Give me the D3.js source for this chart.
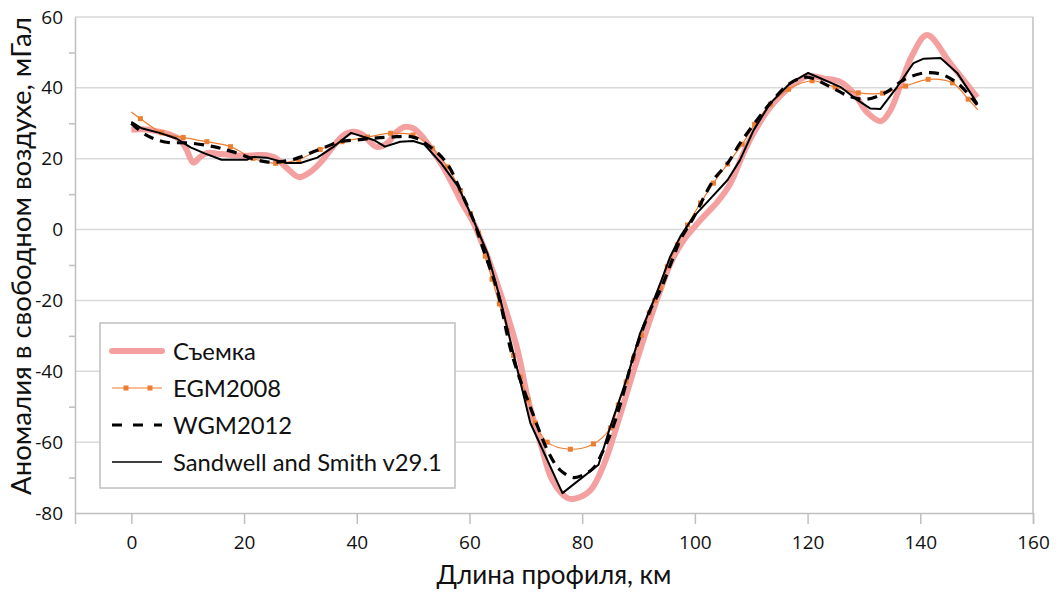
<!DOCTYPE html>
<html>
<head>
<meta charset="utf-8">
<script src="https://cdn.jsdelivr.net/npm/d3@7"></script>
<style>
  body { margin: 0; background: #fff; }
  svg { display: block; font-family: Lato, "Open Sans", sans-serif; }
</style>
</head>
<body>
<svg id="chart" width="1061" height="593"></svg>
<script>
// tick values
const xTicks = [0, 20, 40, 60, 80, 100, 120, 140, 160];
const yTicks = [-80, -60, -40, -20, 0, 20, 40, 60];
const yMinor = [-70, -50, -30, -10, 10, 30, 50];

// [km, mGal]
const survey = [[0,28.2],[2,28.3],[4.4,27.8],[6.5,27],[8.7,25.3],[9.8,22.5],[11,18.9],[12.2,20.5],[13.5,21.6],[16,21.3],[20,20.8],[22,21],[24,21],[25.5,20.3],[27.5,17.5],[29.7,14.8],[31.5,16],[33.5,18.8],[35.5,22.8],[37.7,26.7],[39.5,27.6],[41,26.8],[43.6,23.3],[45.5,24.5],[47,27.5],[48.5,29],[50,28.6],[51.5,26.5],[53,23.3],[55,18.5],[56.6,14],[58.7,7.5],[60.7,1.9],[63.2,-7.7],[65.5,-18],[68.5,-33.8],[70.4,-48],[72.6,-60.3],[74.7,-70.7],[77.4,-75.8],[79.1,-75.8],[81.5,-73.5],[83.8,-66.5],[86.8,-52],[89.1,-40],[91.6,-27.5],[93.9,-17],[95.7,-9.5],[98,-3],[101,2.7],[104,7.8],[106.3,13],[108.6,21.5],[110.4,27.2],[113.4,34.6],[116.9,40.3],[120,43.3],[123,42.6],[125.8,41.7],[128.2,38.5],[130.6,33],[133,30.6],[134.7,33.7],[136.5,40.8],[138.5,49],[141.2,54.9],[145.3,47],[150.1,37.3]];

const egm2008 = [[0,33.2],[1.6,31.3],[5.4,27.3],[9.2,26],[13.4,24.8],[17.6,23.4],[21.6,20.1],[25.6,18.7],[29.7,19.8],[33.5,22.6],[37.4,24.8],[41.9,26.1],[46,27.2],[50,26.7],[53.4,23],[56.1,17.7],[58.4,11],[60.2,4.5],[61.6,-1],[62.8,-7.5],[64,-14],[65.3,-21],[66.7,-28.4],[67.8,-35.5],[69,-41.6],[70.4,-48],[71.7,-54.6],[73.8,-60],[77.9,-62],[82,-60.5],[85,-56],[86.4,-49.5],[87.8,-43],[89.1,-36.3],[90.5,-29.8],[91.9,-23.5],[92.9,-20],[93.9,-16.5],[95.1,-10.5],[96.9,-4.3],[98.7,1.3],[101,7.5],[103.3,13.1],[105.8,18.5],[108.4,24.1],[110.6,29.7],[113.4,35.4],[116.6,39.6],[120.8,42],[124.9,40.2],[129,38.6],[133.3,38.5],[137.4,40.5],[141.4,42.4],[145.7,41.4],[148.5,36.8],[150.2,33.8]];

const wgm2012 = [[0,30],[2.5,26.8],[5.7,24.8],[10.5,24.4],[14.6,23.4],[17.9,22],[24,19.1],[28.2,19.6],[33,22.4],[37,24.8],[40,25.3],[43,25.8],[46,26.1],[50,26.1],[53,23.4],[56,18.7],[58.9,9.2],[60.7,2.7],[62.5,-5.8],[64.9,-17],[67.3,-33.8],[68.7,-41],[71.2,-51.8],[74,-62.8],[76.1,-67.9],[78.5,-70],[80.5,-69],[82,-67.3],[83.8,-62.2],[85.5,-55.6],[87,-48],[89.1,-35.8],[92.1,-22.6],[93.9,-17],[96.2,-7.7],[97.4,-2.9],[99.7,3.2],[103.3,14],[105.8,18.7],[108,24.3],[111,30.9],[113.4,35.7],[116.9,41.3],[120,43],[124,40.3],[127.6,37.5],[130.6,36.8],[134.1,38.9],[137,42.2],[140.6,44.2],[143.6,43.9],[146.6,41.3],[149.4,36.6],[150.1,35.2]];

const sandwell = [[0,30.4],[1.8,28.6],[5,27.3],[8,25.7],[10.5,23.2],[13,21.5],[16,19.7],[20.5,19.7],[21.5,20.5],[24,20.3],[27.5,18.8],[30,18.8],[33,20.3],[36,23.5],[39,27.3],[43,25.3],[45,23.4],[47.7,24.8],[50,25],[52,24],[55,18.7],[58,12.1],[60.7,2.7],[63.2,-6.7],[65.5,-19.9],[67.8,-34.9],[70.8,-54.6],[73.8,-65],[76.5,-74.4],[82.9,-66.4],[85,-55.6],[88,-41.6],[90.3,-29.2],[92.7,-19.9],[94,-14.6],[95.6,-7.7],[97.4,-2],[99.7,3.5],[102.8,8.8],[105.8,14],[108,19.6],[110.4,28],[113.4,35.7],[116.9,41.3],[120.1,44.2],[125.8,40.3],[128.8,36.6],[131.1,34.2],[132.9,34],[135.9,40.3],[138.8,47],[140.5,48.2],[143.6,48.4],[146.6,44.1],[150.1,35.7]];

const svg = d3.select("#chart");
const plot = { left: 75, right: 1033, top: 17, bottom: 513 };

const x = d3.scaleLinear().domain([-10, 160]).range([plot.left, plot.right]);
const y = d3.scaleLinear().domain([-80, 60]).range([plot.bottom, plot.top]);

const gridColor = "#d9d9d9";
const axisColor = "#bfbfbf";

// horizontal gridlines
svg.append("g")
    .selectAll("line")
    .data(yTicks.filter(d => d > -80))
    .join("line")
    .attr("x1", plot.left).attr("x2", plot.right)
    .attr("y1", d => y(d)).attr("y2", d => y(d))
    .attr("stroke", gridColor)
    .attr("stroke-width", 1.5);

// right border
svg.append("line")
    .attr("x1", plot.right).attr("x2", plot.right)
    .attr("y1", plot.top).attr("y2", plot.bottom)
    .attr("stroke", axisColor).attr("stroke-width", 1.5);

// y axis labels
const yAxis = svg.append("g")
    .attr("transform", `translate(${plot.left},0)`)
    .call(d3.axisLeft(y).tickValues(yTicks).tickSize(0).tickPadding(12).tickFormat(d => String(d)));
yAxis.select(".domain").attr("stroke", axisColor).attr("stroke-width", 1.5);
yAxis.selectAll("text").attr("font-size", 19).attr("fill", "#111").attr("font-family", "Open Sans");

// y minor ticks
const yMinorAxis = svg.append("g")
    .attr("transform", `translate(${plot.left},0)`)
    .call(d3.axisLeft(y).tickValues(yMinor).tickSize(6).tickFormat(""));
yMinorAxis.select(".domain").remove();
yMinorAxis.selectAll("line").attr("stroke", axisColor).attr("stroke-width", 1.5);

// x axis
const xAxis = svg.append("g")
    .attr("transform", `translate(0,${plot.bottom})`)
    .call(d3.axisBottom(x).tickValues(xTicks).tickSize(11).tickPadding(12).tickFormat(d => String(d)));
xAxis.select(".domain").attr("stroke", axisColor).attr("stroke-width", 1.5);
xAxis.selectAll("line").attr("stroke", axisColor).attr("stroke-width", 1.5);
xAxis.selectAll("text").attr("font-size", 19).attr("fill", "#111").attr("font-family", "Open Sans");

// series
const line = curve => d3.line().x(d => x(d[0])).y(d => y(d[1])).curve(curve);

svg.append("path")
    .datum(survey)
    .attr("d", line(d3.curveCatmullRom.alpha(0.5)))
    .attr("fill", "none")
    .attr("stroke", "#f4a0a0")
    .attr("stroke-width", 6)
    .attr("stroke-linejoin", "round");

svg.append("path")
    .datum(egm2008)
    .attr("d", line(d3.curveCatmullRom.alpha(0.5)))
    .attr("fill", "none")
    .attr("stroke", "#ed7d31")
    .attr("stroke-width", 1.2);

svg.append("g")
    .selectAll("rect")
    .data(egm2008.slice(1, -1))
    .join("rect")
    .attr("x", d => x(d[0]) - 2.5)
    .attr("y", d => y(d[1]) - 2.5)
    .attr("width", 5).attr("height", 5)
    .attr("fill", "#ed7d31");

svg.append("path")
    .datum(wgm2012)
    .attr("d", line(d3.curveCatmullRom.alpha(0.5)))
    .attr("fill", "none")
    .attr("stroke", "#000")
    .attr("stroke-width", 3.2)
    .attr("stroke-dasharray", "10,7");

svg.append("path")
    .datum(sandwell)
    .attr("d", line(d3.curveLinear))
    .attr("fill", "none")
    .attr("stroke", "#000")
    .attr("stroke-width", 2)
    .attr("stroke-linejoin", "round");

// fit text to a measured width
function fitText(sel, target) {
    const w = sel.node().getComputedTextLength();
    const fs = parseFloat(sel.attr("font-size"));
    sel.attr("font-size", fs * target / w);
}

// axis titles
const xTitle = svg.append("text")
    .attr("x", 554).attr("y", 584)
    .attr("text-anchor", "middle")
    .attr("font-size", 24)
    .attr("fill", "#111")
    .text("Длина профиля, км");
fitText(xTitle, 235);

const yTitle = svg.append("text")
    .attr("transform", "translate(31,256) rotate(-90)")
    .attr("text-anchor", "middle")
    .attr("font-size", 24)
    .attr("fill", "#111")
    .text("Аномалия в свободном воздухе, мГал");
fitText(yTitle, 478);

// legend
const legendItems = [
    { name: "Съемка", color: "#f4a0a0", width: 6, dash: null, marker: false },
    { name: "EGM2008", color: "#ed7d31", width: 1.2, dash: null, marker: true },
    { name: "WGM2012", color: "#000", width: 3.2, dash: "10,11", marker: false },
    { name: "Sandwell and Smith v29.1", color: "#000", width: 1.6, dash: null, marker: false }
];

const legend = svg.append("g").attr("transform", "translate(100,323)");
legend.append("rect")
    .attr("width", 355).attr("height", 165)
    .attr("fill", "#fff")
    .attr("stroke", axisColor).attr("stroke-width", 1.5);

legendItems.forEach((item, i) => {
    const row = legend.append("g").attr("transform", `translate(0,${28 + i * 37})`);
    row.append("line")
        .attr("x1", 12).attr("x2", 62)
        .attr("stroke", item.color)
        .attr("stroke-width", item.width)
        .attr("stroke-linecap", item.width > 4 ? "round" : "butt")
        .attr("stroke-dasharray", item.dash);
    if (item.marker) {
        [26, 50].forEach(mx => {
            row.append("rect")
                .attr("x", mx - 2.5).attr("y", -2.5)
                .attr("width", 5).attr("height", 5)
                .attr("fill", item.color);
        });
    }
    row.append("text")
        .attr("x", 73).attr("dy", "0.36em")
        .attr("font-size", 21)
        .attr("fill", "#111")
        .text(item.name);
});
fitText(legend.selectAll("text").filter((d, i) => i === 3), 269);
const legFs = legend.selectAll("text").filter((d, i) => i === 3).attr("font-size");
legend.selectAll("text").attr("font-size", legFs);
</script>
</body>
</html>
